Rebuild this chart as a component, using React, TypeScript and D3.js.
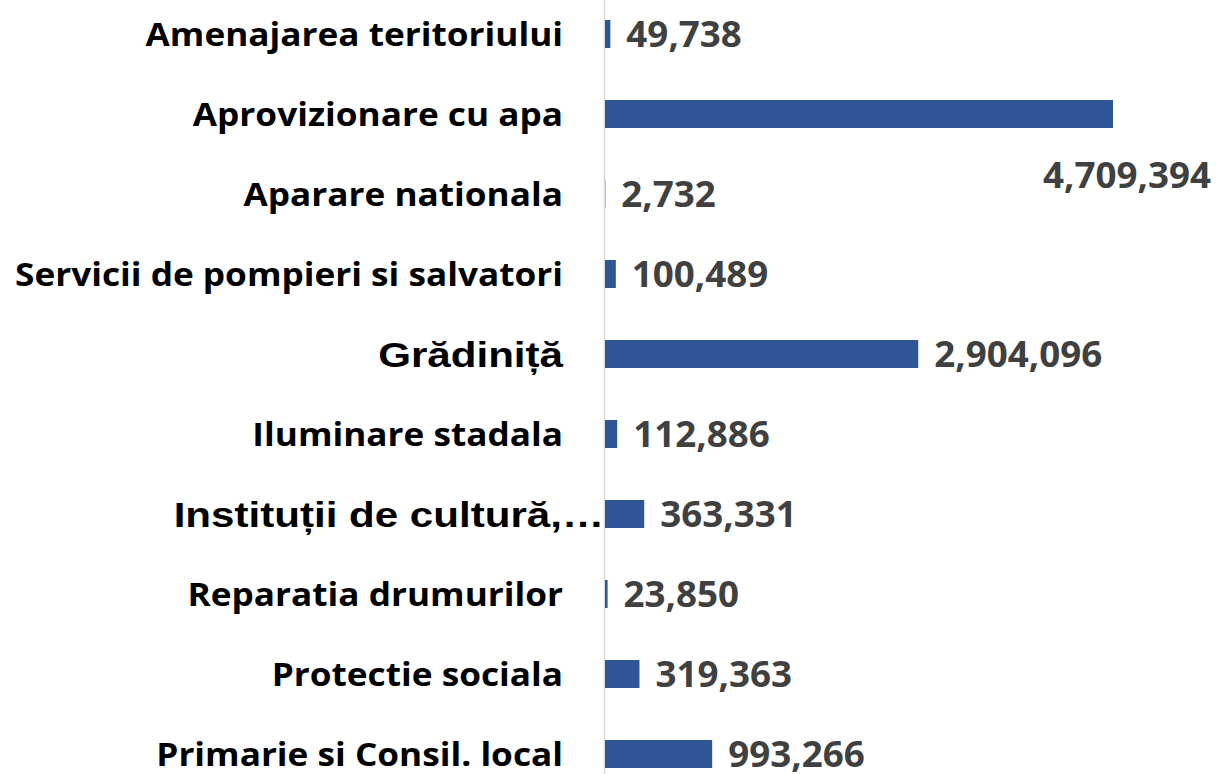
import React from "react";
import * as d3 from "d3";

const categories = [
  "Amenajarea teritoriului",
  "Aprovizionare cu apa",
  "Aparare nationala",
  "Servicii de pompieri si salvatori",
  "Grădiniță",
  "Iluminare stadala",
  "Instituții de cultură,…",
  "Reparatia drumurilor",
  "Protectie sociala",
  "Primarie si Consil. local",
];
const values = [49738, 4709394, 2732, 100489, 2904096, 112886, 363331, 23850, 319363, 993266];
const arialLabels = ["Grădiniță", "Instituții de cultură,…"];

const W = 1216;
const H = 774;

export default function App() {
  const x = d3.scaleLinear().domain([0, 4709394]).range([605, 1113]);
  const y = d3.scalePoint<string>().domain(categories).range([34, 754]);
  const barH = 28;
  const fmt = d3.format(",");
  const maxV = d3.max(values) as number;
  return (
    <div style={{ position: "absolute", left: 0, top: 0 }}>
      <svg width={W} height={H} style={{ display: "block", background: "#fff" }}>
        <line x1={604.5} x2={604.5} y1={0} y2={H} stroke="#d9d9d9" strokeWidth={1.5} />
        {categories.map((c, i) => {
          const cy = y(c) as number;
          const v = values[i];
          const isArial = arialLabels.includes(c);
          const isMax = v === maxV;
          const isEllipsis = c.endsWith("…");
          const lx = isEllipsis ? 604 : 563;
          const vx = isMax ? 1211 : x(v) + 16;
          const vy = isMax ? cy + 61 : cy;
          return (
            <g key={c}>
              <rect x={x(0)} y={cy - barH / 2} width={Math.max(0, x(v) - x(0))} height={barH} fill="#2F5597" />
              <text
                transform={`translate(${lx},${cy}) scale(${isArial ? 1.17 : 1.1},1)`}
                dy="0.36em"
                textAnchor="end"
                fontFamily={isArial ? "'Liberation Sans', Arial, sans-serif" : "'Open Sans', sans-serif"}
                fontWeight={700}
                fontSize={isArial ? 36 : 32}
                fill="#000"
              >
                {c}
              </text>
              <text
                transform={`translate(${vx},${vy}) scale(1.05,1)`}
                dy="0.36em"
                textAnchor={isMax ? "end" : "start"}
                fontFamily="'Open Sans', sans-serif"
                fontWeight={700}
                fontSize={35}
                fill="#404040"
              >
                {fmt(v)}
              </text>
            </g>
          );
        })}
      </svg>
    </div>
  );
}
